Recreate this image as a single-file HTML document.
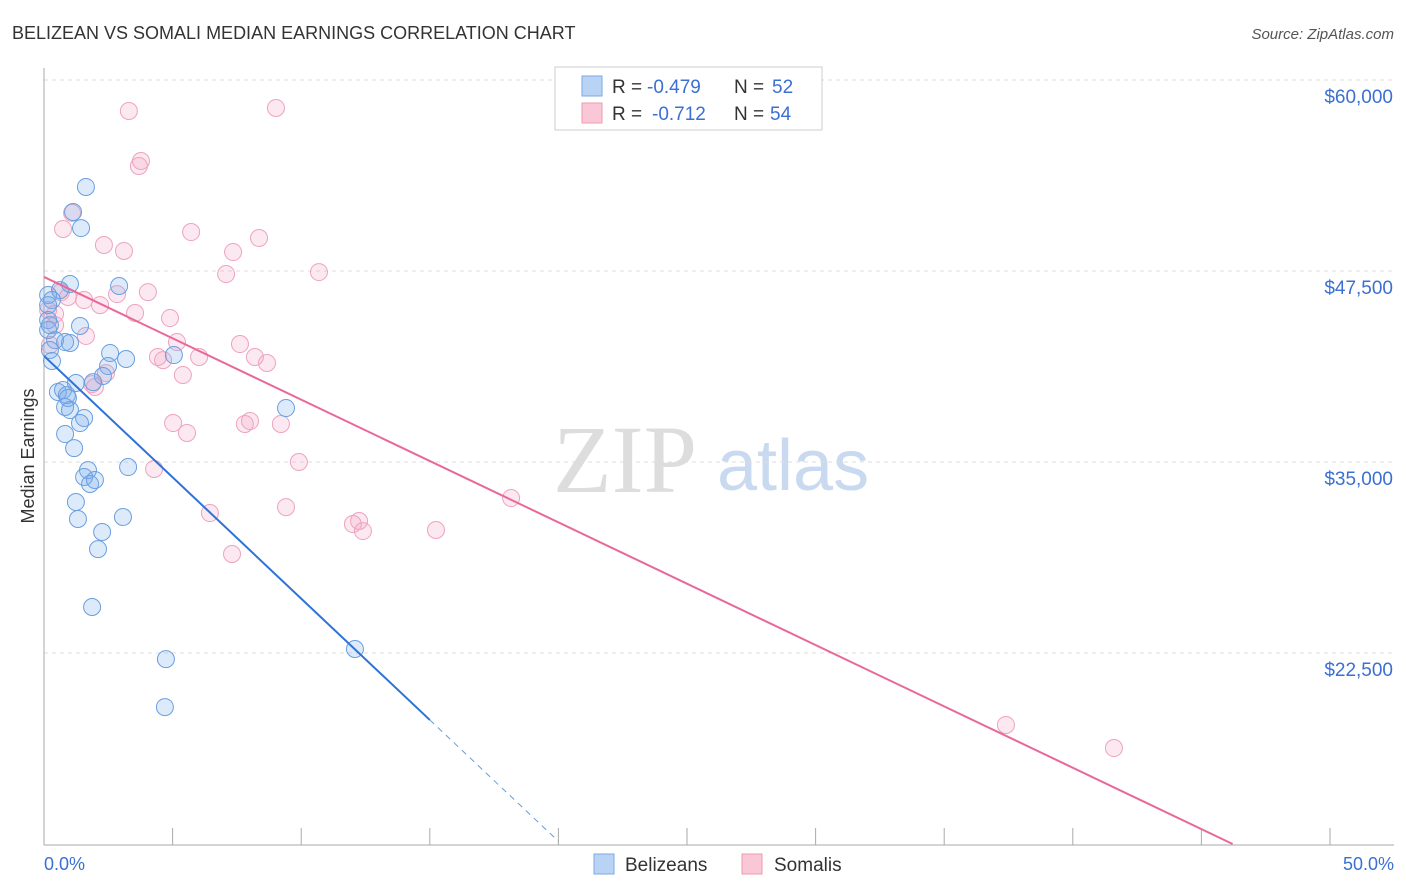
<!DOCTYPE html>
<html><head><meta charset="utf-8"><style>
body{margin:0;background:#fff;font-family:"Liberation Sans",sans-serif;}
svg{display:block}
</style></head><body>
<svg id="chart" width="1406" height="892" xmlns="http://www.w3.org/2000/svg">
<text x="12" y="39" font-size="18" fill="#333">BELIZEAN VS SOMALI MEDIAN EARNINGS CORRELATION CHART</text>
<text x="1394" y="39" font-size="15" fill="#555" text-anchor="end" font-style="italic">Source: ZipAtlas.com</text>
<g>
<text x="553" y="492" font-family="Liberation Serif,serif" font-size="96" fill="#ddd">ZIP</text>
<text x="717" y="490" font-size="72" fill="#c9daf0">atlas</text>
</g>
<g id="grid"></g>
<g id="yticks"></g>
<g id="xticks"></g>
<line x1="44" y1="68" x2="44" y2="845" stroke="#aaa"/>
<line x1="44" y1="845" x2="1394" y2="845" stroke="#aaa"/>
<text transform="translate(34,456) rotate(-90)" font-size="18" fill="#333" text-anchor="middle">Median Earnings</text>
<text x="44" y="870" font-size="18" fill="#3b6fd1">0.0%</text>
<text x="1394" y="870" font-size="18" fill="#3b6fd1" text-anchor="end">50.0%</text>
<g id="pinkpts"></g>
<g id="bluepts"></g>
<g id="lines"></g>
<g>
<rect x="555" y="67" width="267" height="63" fill="#fff" stroke="#ccc"/>
<rect x="582" y="76" width="20" height="20" fill="#b9d3f5" stroke="#7aa8e6"/>
<rect x="582" y="103" width="20" height="20" fill="#f9c7d6" stroke="#ee9ab4"/>
<text x="612" y="93" font-size="19" fill="#333">R =</text>
<text x="647" y="93" font-size="19" fill="#3b6fd1">-0.479</text>
<text x="734" y="93" font-size="19" fill="#333">N =</text>
<text x="772" y="93" font-size="19" fill="#3b6fd1">52</text>
<text x="612" y="120" font-size="19" fill="#333">R =</text>
<text x="652" y="120" font-size="19" fill="#3b6fd1">-0.712</text>
<text x="734" y="120" font-size="19" fill="#333">N =</text>
<text x="770" y="120" font-size="19" fill="#3b6fd1">54</text>
</g>
<g>
<rect x="594" y="854" width="20" height="20" fill="#b9d3f5" stroke="#7aa8e6"/>
<text x="625" y="871" font-size="19" fill="#333">Belizeans</text>
<rect x="742" y="854" width="20" height="20" fill="#f9c7d6" stroke="#ee9ab4"/>
<text x="774" y="871" font-size="19" fill="#333">Somalis</text>
</g>
</svg>
<script>
const yTicks=[60000,47500,35000,22500];
const yTickLabels=["$60,000","$47,500","$35,000","$22,500"];
const xTicks=[0,5,10,15,20,25,30,35,40,45,50];
const blueX=[1.63,1.13,1.44,1.01,0.62,0.16,0.31,2.92,0.16,1.40,0.43,1.01,0.82,2.57,5.05,3.19,0.23,0.31,2.49,2.29,1.24,1.91,0.54,0.74,0.89,0.93,0.82,1.01,1.56,1.40,0.82,1.17,1.71,3.27,1.56,1.79,1.98,1.24,3.07,1.32,2.26,2.10,1.87,4.74,4.70,12.09,9.41,0.16,0.16,0.23];
const blueY=[53000,51360,50310,46650,46250,45930,45600,46520,44290,43900,42980,42790,42850,42130,42000,41740,42330,41610,41280,40630,40170,40230,39580,39710,39380,39190,38600,38400,37880,37550,36830,35910,34470,34670,34020,33560,33820,32380,31400,31270,30420,29300,25510,22100,18960,22760,38530,45270,43640,43960];
const pinkX=[3.30,9.02,3.77,3.69,1.09,0.74,5.72,2.33,3.11,8.36,7.35,7.08,10.69,4.04,2.84,0.66,2.18,1.56,0.93,3.54,4.90,0.43,1.63,7.62,5.17,6.03,4.43,4.63,8.20,8.67,5.40,1.98,2.41,5.02,5.56,7.81,8.01,9.21,9.91,4.28,6.45,9.41,7.31,12.01,12.25,12.40,15.24,18.16,37.40,41.60,0.43,0.23,0.16,1.87];
const pinkY=[57970,58170,54700,54370,51300,50250,50050,49200,48810,49660,48740,47300,47430,46120,45990,46120,45270,45600,45800,44750,44420,44690,43250,42720,42850,41870,41870,41670,41870,41480,40690,39910,40820,37550,36900,37490,37680,37490,35000,34540,31660,32050,28980,30940,31140,30480,30550,32640,17790,16280,43960,42660,44950,40100];
const blueTrend=[41940,-1588];
const pinkTrend=[47110,-803];
const NS="http://www.w3.org/2000/svg";
const xs=p=>44+p*25.72;
const ys=v=>80+(60000-v)/12500*191;
function mk(t,a,parent){const e=document.createElementNS(NS,t);for(const k in a)e.setAttribute(k,a[k]);parent.appendChild(e);return e;}
const grid=document.getElementById('grid'),yt=document.getElementById('yticks'),xt=document.getElementById('xticks');
yTicks.forEach((v,i)=>{
  const l=mk('line',{x1:44,x2:1394,y1:ys(v),y2:ys(v),stroke:'#ddd','stroke-dasharray':'4,4'},grid);
  
  
  const t=mk('text',{x:1393,y:ys(v)+23,'font-size':19,fill:'#3b6fd1','text-anchor':'end'},yt);
  t.textContent=yTickLabels[i];
  
  
});
xTicks.forEach(p=>{
  const l=mk('line',{x1:xs(p),x2:xs(p),y1:828,y2:845,stroke:'#aaa'},xt);
  
  
});
function pts(X,Y,g,fill,stroke,name){
  X.forEach((x,i)=>{
    const c=mk('circle',{cx:xs(x),cy:ys(Y[i]),r:8.5,fill:fill,stroke:stroke,'stroke-width':1},g);
    
    
  });
}
pts(pinkX,pinkY,document.getElementById('pinkpts'),'rgba(245,165,195,0.25)','#eea3bd','somali-point');
pts(blueX,blueY,document.getElementById('bluepts'),'rgba(120,170,235,0.25)','#6a9fe0','belizean-point');
const lg=document.getElementById('lines');
const bEnd=15, bDash=20;
let l1=mk('line',{x1:xs(0),y1:ys(blueTrend[0]),x2:xs(bEnd),y2:ys(blueTrend[0]+blueTrend[1]*bEnd),stroke:'#2f72d8','stroke-width':2},lg);


let l2=mk('line',{x1:xs(bEnd),y1:ys(blueTrend[0]+blueTrend[1]*bEnd),x2:xs(bDash),y2:ys(blueTrend[0]+blueTrend[1]*bDash),stroke:'#6a9ad8','stroke-width':1,'stroke-dasharray':'6,5'},lg);


const pEnd=(10000-pinkTrend[0])/pinkTrend[1];
let l3=mk('line',{x1:xs(0),y1:ys(pinkTrend[0]),x2:xs(pEnd),y2:ys(10000),stroke:'#e8689a','stroke-width':2},lg);


</script>
</body></html>
